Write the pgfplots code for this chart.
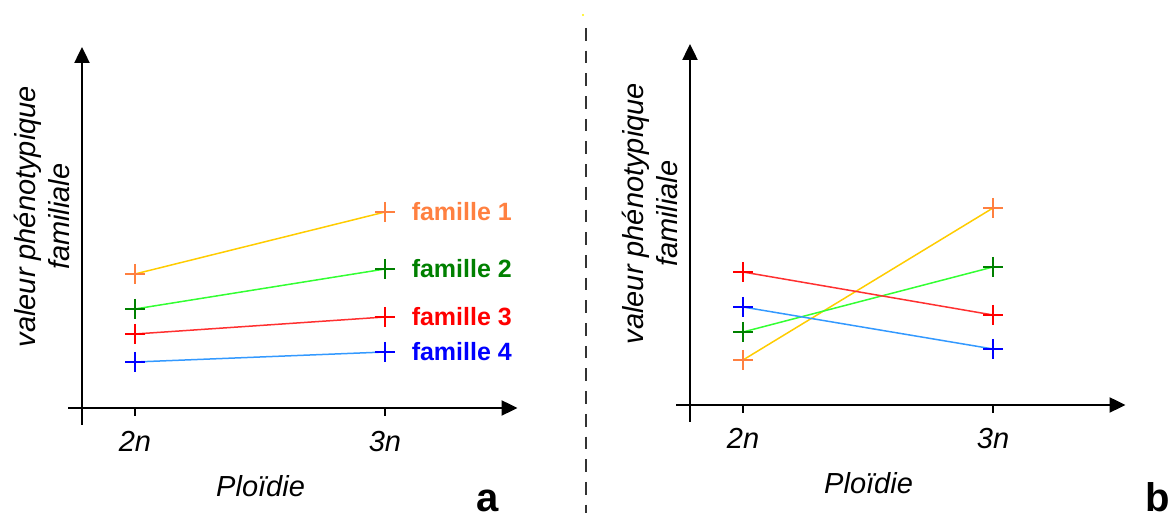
\documentclass[border=0pt]{standalone}
\usepackage{pgfplots}
\pgfplotsset{compat=1.18}
\usepackage{fontspec}
\setmainfont{Liberation Sans}
\usetikzlibrary{arrows.meta}

% colours of the four families
\definecolor{fonecol}{HTML}{FF8040}
\definecolor{foneline}{HTML}{FFCC00}
\definecolor{ftwocol}{HTML}{008000}
\definecolor{ftwoline}{HTML}{33FF33}
\definecolor{fthreecol}{HTML}{FF0000}
\definecolor{fthreeline}{HTML}{FF3030}
\definecolor{ffourcol}{HTML}{0000FF}
\definecolor{ffourline}{HTML}{3399FF}

\newcommand{\axfont}{\fontsize{14.5}{17}\selectfont}

\tikzset{
  famlabel/.style={pos=1, right, xshift=13pt, font=\fontsize{12.5}{14}\selectfont\bfseries, inner sep=0pt},
}

\pgfplotsset{
  ploidy/.style={
    scale only axis,
    x=125pt, y=5pt,
    xmin=1.788, xmax=3.53,
    ymin=0, ymax=36.1,
    axis x line=bottom, axis y line=left,
    axis line style={line width=1.2pt, black, -{Triangle[length=8pt,width=7.5pt]}},
    x axis line style={shorten <=-7pt},
    y axis line style={shorten <=-8.5pt},
    xtick={2,3}, xticklabels={\textit{2n},\textit{3n}},
    ytick=\empty,
    tick align=outside,
    major tick length=4pt,
    tick style={line width=1pt, black},
    xticklabel style={font=\axfont, anchor=base, yshift=-18pt},
    xlabel={\textit{Ploïdie}},
    every axis x label/.style={at={(axis description cs:0.41,0)}, anchor=base, yshift=-44.5pt, font=\axfont},
    ylabel={\textit{valeur phénotypique}\\\textit{familiale}},
    every axis y label/.style={at={(axis description cs:-0.028,0.53)}, rotate=90, anchor=south, align=center, inner sep=0pt, font=\axfont},
    clip=false,
  },
  fam/.style 2 args={color=#2, line width=0.75pt, mark=+, mark size=5pt,
    mark options={color=#1, line width=1.1pt}},
}

\begin{document}
\begin{tikzpicture}
\path[use as bounding box] (0,0) rectangle (586.5pt,259pt);

% panel a: parallel reaction norms
\begin{axis}[ploidy, at={(41pt,55pt)}, anchor=south west]
\addplot[fam={fonecol}{foneline}] coordinates {(2,13.4) (3,19.6)}
  node[famlabel, text=fonecol] {famille 1};
\addplot[fam={ftwocol}{ftwoline}] coordinates {(2,9.9) (3,13.9)}
  node[famlabel, text=ftwocol] {famille 2};
\addplot[fam={fthreecol}{fthreeline}] coordinates {(2,7.4) (3,9.1)}
  node[famlabel, text=fthreecol] {famille 3};
\addplot[fam={ffourcol}{ffourline}] coordinates {(2,4.6) (3,5.6)}
  node[famlabel, text=ffourcol] {famille 4};
\end{axis}

% panel b: crossing reaction norms
\begin{axis}[ploidy, at={(345pt,56.5pt)}, anchor=south west]
\addplot[fam={fonecol}{foneline}] coordinates {(2,4.5) (3,19.7)};
\addplot[fam={ftwocol}{ftwoline}] coordinates {(2,7.3) (3,13.8)};
\addplot[fam={fthreecol}{fthreeline}] coordinates {(2,13.3) (3,9.0)};
\addplot[fam={ffourcol}{ffourline}] coordinates {(2,9.8) (3,5.6)};
\end{axis}

% separator between the panels
\draw[black!80, line width=0.75pt, dash pattern=on 6.35pt off 5pt] (293pt,245pt) -- (293pt,2.5pt);
\fill[yellow] (291.5pt,251.5pt) circle (0.6pt);

% panel letters
\node[anchor=base, font=\fontsize{20}{24}\selectfont\bfseries, inner sep=0pt] at (244pt,3pt) {a};
\node[anchor=base, font=\fontsize{20}{24}\selectfont\bfseries, inner sep=0pt] at (579pt,3pt) {b};
\end{tikzpicture}
\end{document}
